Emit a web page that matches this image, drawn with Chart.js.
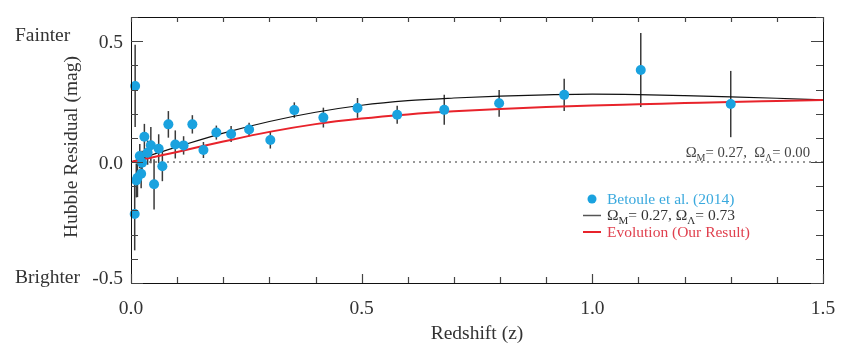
<!DOCTYPE html>
<html>
<head>
<meta charset="utf-8">
<script src="https://cdn.jsdelivr.net/npm/chart.js@4.4.1/dist/chart.umd.min.js"></script>
<style>
  html, body { margin: 0; padding: 0; background: #fff; }
  canvas { display: block; }
</style>
</head>
<body>
<canvas id="hubble" width="865" height="354"></canvas>
<script>
// Betoule et al. (2014) binned Hubble residuals
const zBins    = [0.009, 0.008, 0.014, 0.0115, 0.022, 0.019, 0.024, 0.029, 0.036, 0.043, 0.05, 0.06, 0.068, 0.081, 0.096, 0.114, 0.133, 0.157, 0.185, 0.217, 0.256, 0.302, 0.354, 0.417, 0.491, 0.577, 0.679, 0.798, 0.939, 1.105, 1.30];
const residMag = [0.315, -0.215, -0.065, -0.076, -0.048, 0.025, -0.003, 0.105, 0.039, 0.07, -0.092, 0.055, -0.017, 0.156, 0.073, 0.069, 0.156, 0.05, 0.122, 0.116, 0.135, 0.091, 0.215, 0.184, 0.224, 0.196, 0.216, 0.243, 0.278, 0.381, 0.24];
const residErr = [0.17, 0.15, 0.08, 0.07, 0.06, 0.05, 0.05, 0.053, 0.05, 0.075, 0.104, 0.06, 0.062, 0.055, 0.058, 0.038, 0.038, 0.033, 0.029, 0.033, 0.028, 0.035, 0.032, 0.041, 0.041, 0.037, 0.062, 0.055, 0.067, 0.153, 0.137];

// model curves
const zCurve    = [0, 0.05, 0.1, 0.2, 0.3, 0.4, 0.5, 0.6, 0.7, 0.8, 0.9, 1.0, 1.1, 1.2, 1.3, 1.4, 1.5];
const lcdmCurve = [0, 0.033, 0.063, 0.120, 0.168, 0.206, 0.235, 0.254, 0.265, 0.273, 0.278, 0.281, 0.279, 0.275, 0.270, 0.264, 0.257];
const evolCurve = [0, 0.021, 0.042, 0.085, 0.125, 0.157, 0.180, 0.197, 0.210, 0.220, 0.228, 0.234, 0.239, 0.244, 0.249, 0.253, 0.257];

const xTickLabels = ["0.0", "0.5", "1.0", "1.5"];
const yTickLabels = ["-0.5", "0.0", "0.5"];

const FONT = '"Liberation Serif", "Times New Roman", serif';
const BLUE = "#1aa2df";
const RED  = "#e8232b";
const TEXT = "#333";

const pts = (xs, ys) => xs.map((x, i) => ({ x, y: ys[i] }));

// draw a string with subscripts; parts = [[text, isSub], ...]
function richText(ctx, parts, x, y, size, align) {
  const subSize = Math.round(size * 0.68);
  let total = 0;
  parts.forEach(([t, sub]) => {
    ctx.font = `${sub ? subSize : size}px ${FONT}`;
    total += ctx.measureText(t).width;
  });
  let cx = align === "right" ? x - total : x;
  ctx.textAlign = "left";
  ctx.textBaseline = "alphabetic";
  parts.forEach(([t, sub]) => {
    ctx.font = `${sub ? subSize : size}px ${FONT}`;
    ctx.fillText(t, cx, sub ? y + size * 0.28 : y);
    cx += ctx.measureText(t).width;
  });
}

const decor = {
  id: "decor",
  beforeDatasetsDraw(chart) {
    const { ctx, scales: { x, y } } = chart;
    ctx.save();
    ctx.strokeStyle = "#3a3a3a";
    ctx.lineWidth = 1.5;
    zBins.forEach((z, i) => {
      const px = x.getPixelForValue(z);
      ctx.beginPath();
      ctx.moveTo(px, y.getPixelForValue(residMag[i] + residErr[i]));
      ctx.lineTo(px, y.getPixelForValue(residMag[i] - residErr[i]));
      ctx.stroke();
    });
    ctx.restore();
  },
  afterDraw(chart) {
    const { ctx, chartArea: a, scales: { x, y } } = chart;
    ctx.save();

    // frame
    ctx.strokeStyle = "#111";
    ctx.lineWidth = 1;
    ctx.strokeRect(a.left + 0.5, a.top + 0.5, a.right - a.left, a.bottom - a.top);

    // inward ticks
    ctx.strokeStyle = "#444";
    ctx.lineWidth = 1.2;
    for (let i = -5; i <= 6; i++) {
      const v = i / 10;
      const py = Math.round(y.getPixelForValue(v)) + 0.5;
      const len = i % 5 === 0 ? 12 : 7;
      ctx.beginPath();
      ctx.moveTo(a.left, py); ctx.lineTo(a.left + len, py);
      ctx.moveTo(a.right, py); ctx.lineTo(a.right - len, py);
      ctx.stroke();
    }
    for (let i = 0; i <= 15; i++) {
      const px = Math.round(x.getPixelForValue(i / 10)) + 0.5;
      const len = i % 5 === 0 ? 9 : 6;
      ctx.beginPath();
      ctx.moveTo(px, a.bottom); ctx.lineTo(px, a.bottom - len);
      ctx.moveTo(px, a.top); ctx.lineTo(px, a.top + 5);
      ctx.stroke();
    }

    // tick labels
    ctx.fillStyle = TEXT;
    ctx.font = `19.5px ${FONT}`;
    ctx.textAlign = "center";
    ctx.textBaseline = "middle";
    xTickLabels.forEach(t => ctx.fillText(t, x.getPixelForValue(parseFloat(t)), 309));
    ctx.textAlign = "right";
    yTickLabels.forEach(t => {
      const v = parseFloat(t);
      const py = y.getPixelForValue(v) + (v < 0 ? -4 : 2);
      ctx.fillText(t, a.left - 8, py);
    });

    // axis titles
    ctx.textAlign = "center";
    ctx.fillText("Redshift (z)", (a.left + a.right) / 2, 334);
    ctx.save();
    ctx.translate(72, 147);
    ctx.rotate(-Math.PI / 2);
    ctx.fillText("Hubble Residual (mag)", 0, 0);
    ctx.restore();
    ctx.textAlign = "left";
    ctx.fillText("Fainter", 15, 36);
    ctx.fillText("Brighter", 15, 278);

    // label on the zero line
    ctx.fillStyle = "#444";
    richText(ctx, [["Ω"], ["M", true], ["= 0.27,  Ω"], ["Λ", true], ["= 0.00"]], 810, 157, 14.7, "right");

    // legend
    ctx.fillStyle = BLUE;
    ctx.beginPath();
    ctx.arc(592, 199, 4.5, 0, Math.PI * 2);
    ctx.fill();
    ctx.font = `15.5px ${FONT}`;
    ctx.fillStyle = "#3aa9de";
    ctx.fillText("Betoule et al. (2014)", 607, 204);

    ctx.lineWidth = 1.5;
    ctx.strokeStyle = "#555";
    ctx.beginPath(); ctx.moveTo(583, 215.5); ctx.lineTo(601, 215.5); ctx.stroke();
    ctx.fillStyle = "#333";
    richText(ctx, [["Ω"], ["M", true], ["= 0.27, Ω"], ["Λ", true], ["= 0.73"]], 607, 220, 15.5, "left");

    ctx.lineWidth = 2;
    ctx.strokeStyle = RED;
    ctx.beginPath(); ctx.moveTo(583, 232); ctx.lineTo(601, 232); ctx.stroke();
    ctx.font = `15.5px ${FONT}`;
    ctx.fillStyle = "#e0404e";
    ctx.fillText("Evolution (Our Result)", 607, 237);

    ctx.restore();
  }
};

new Chart(document.getElementById("hubble"), {
  type: "scatter",
  data: {
    datasets: [
      {
        label: "Betoule et al. (2014)",
        data: pts(zBins, residMag),
        backgroundColor: BLUE,
        borderColor: BLUE,
        pointRadius: 5,
        borderWidth: 0,
        clip: false,
        order: 0,
      },
      {
        label: "LCDM",
        data: pts(zCurve, lcdmCurve),
        showLine: true,
        borderColor: "#111",
        borderWidth: 1.2,
        pointRadius: 0,
        cubicInterpolationMode: "monotone",
        order: 2,
      },
      {
        label: "Evolution",
        data: pts(zCurve, evolCurve),
        showLine: true,
        borderColor: RED,
        borderWidth: 2,
        pointRadius: 0,
        cubicInterpolationMode: "monotone",
        order: 1,
      },
      {
        label: "zero",
        data: pts([0, 1.5], [0, 0]),
        showLine: true,
        borderColor: "#777",
        borderWidth: 1.5,
        borderDash: [2, 4],
        pointRadius: 0,
        order: 3,
      },
    ],
  },
  options: {
    responsive: false,
    animation: false,
    layout: { padding: { left: 131, right: 42, top: 17, bottom: 71 } },
    plugins: { legend: { display: false }, tooltip: { enabled: false } },
    scales: {
      x: { type: "linear", min: 0, max: 1.5, display: false },
      y: { type: "linear", min: -0.5, max: 0.6, display: false },
    },
  },
  plugins: [decor],
});
</script>
</body>
</html>
